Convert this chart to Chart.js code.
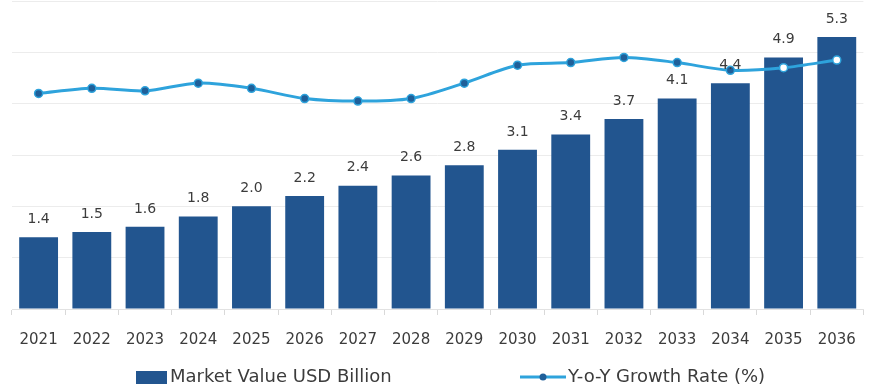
<!DOCTYPE html>
<html>
<head>
<meta charset="utf-8">
<script src="https://cdn.jsdelivr.net/npm/chart.js@4.4.1/dist/chart.umd.min.js"></script>
<style>
  html, body { margin: 0; padding: 0; background: #ffffff; }
  #wrap { position: relative; width: 872px; height: 392px; }
</style>
</head>
<body>
<div id="wrap"><canvas id="chart" width="872" height="392"></canvas></div>
<script>
// Market size by year, USD billion
const years = ['2021','2022','2023','2024','2025','2026','2027','2028','2029','2030','2031','2032','2033','2034','2035','2036'];
const marketValue = [1.4, 1.5, 1.6, 1.8, 2.0, 2.2, 2.4, 2.6, 2.8, 3.1, 3.4, 3.7, 4.1, 4.4, 4.9, 5.3];
// Year-on-year growth, percent
const growthRate = [8.4, 8.6, 8.5, 8.8, 8.6, 8.2, 8.1, 8.2, 8.8, 9.5, 9.6, 9.8, 9.6, 9.3, 9.4, 9.7];

const barLabel = 'Market Value USD Billion';
const lineLabel = 'Y-o-Y Growth Rate (%)';

const BAR_COLOR = '#22558f';
const LINE_COLOR = '#2ea3dc';
const POINT_FILL = '#1f5f99';
const TEXT_COLOR = '#3c3c3c';
const FONT = "'DejaVu Sans', 'Open Sans', sans-serif";

// Value labels above each bar
const barValueLabels = {
  id: 'barValueLabels',
  afterDatasetsDraw(chart) {
    const ctx = chart.ctx;
    const meta = chart.getDatasetMeta(1);
    ctx.save();
    ctx.fillStyle = TEXT_COLOR;
    ctx.font = '14px ' + FONT;
    ctx.textAlign = 'center';
    ctx.textBaseline = 'middle';
    meta.data.forEach((bar, i) => {
      ctx.fillText(marketValue[i].toFixed(1), bar.x, bar.y - 18);
    });
    ctx.restore();
  }
};

// Legend row under the axis
const bottomLegend = {
  id: 'bottomLegend',
  afterDraw(chart) {
    const ctx = chart.ctx;
    const y = 377;
    ctx.save();
    ctx.font = '18px ' + FONT;
    ctx.textBaseline = 'middle';
    ctx.textAlign = 'left';
    // bar swatch
    ctx.fillStyle = BAR_COLOR;
    ctx.fillRect(136, y - 6, 31, 13);
    ctx.fillStyle = TEXT_COLOR;
    ctx.fillText(barLabel, 170, y);
    // line swatch with marker
    ctx.strokeStyle = LINE_COLOR;
    ctx.lineWidth = 3;
    ctx.beginPath();
    ctx.moveTo(520, y);
    ctx.lineTo(566, y);
    ctx.stroke();
    ctx.beginPath();
    ctx.arc(543, y, 3.5, 0, Math.PI * 2);
    ctx.fillStyle = POINT_FILL;
    ctx.fill();
    ctx.fillStyle = TEXT_COLOR;
    ctx.fillText(lineLabel, 568, y);
    ctx.restore();
  }
};

const pointFills = growthRate.map((v, i) => (i >= 14 ? '#ffffff' : POINT_FILL));

new Chart(document.getElementById('chart'), {
  data: {
    labels: years,
    datasets: [
      {
        type: 'line',
        label: lineLabel,
        data: growthRate,
        yAxisID: 'yGrowth',
        borderColor: LINE_COLOR,
        borderWidth: 3,
        tension: 0.3,
        pointRadius: 4,
        pointBorderWidth: 1.5,
        pointBorderColor: LINE_COLOR,
        pointBackgroundColor: pointFills,
        clip: false,
        order: 0
      },
      {
        type: 'bar',
        label: barLabel,
        data: marketValue,
        yAxisID: 'y',
        backgroundColor: BAR_COLOR,
        categoryPercentage: 1.0,
        barPercentage: 0.73,
        order: 1
      }
    ]
  },
  options: {
    responsive: false,
    animation: false,
    layout: { autoPadding: false, padding: { left: 12, right: 4, top: 1, bottom: 27 } },
    plugins: {
      legend: { display: false },
      tooltip: { enabled: false }
    },
    scales: {
      x: {
        offset: true,
        grid: {
          offset: true,
          drawOnChartArea: false,
          drawTicks: true,
          tickLength: 6,
          color: '#d9d9d9'
        },
        border: { display: true, color: '#e2e2e2' },
        ticks: {
          color: TEXT_COLOR,
          font: { family: FONT, size: 15 },
          padding: 16,
          maxRotation: 0
        }
      },
      y: {
        min: 0,
        max: 6,
        position: 'left',
        border: { display: false },
        grid: { color: '#ececec', drawTicks: false },
        ticks: { display: false, stepSize: 1 }
      },
      yGrowth: {
        min: 0,
        max: 12,
        display: false
      }
    }
  },
  plugins: [barValueLabels, bottomLegend]
});
</script>
</body>
</html>
